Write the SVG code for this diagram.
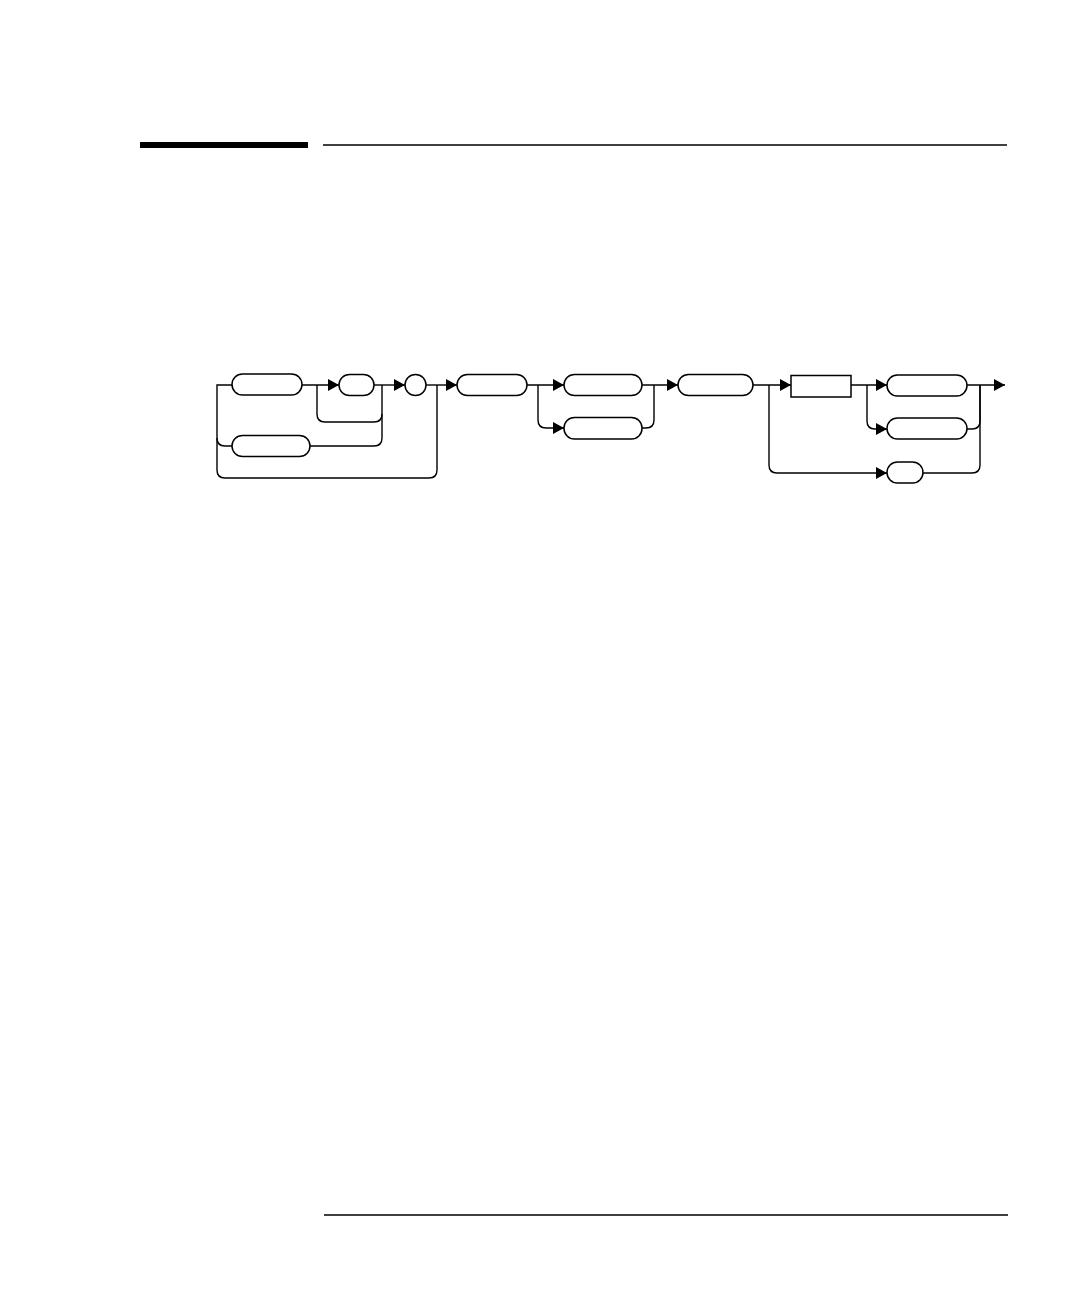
<svg xmlns="http://www.w3.org/2000/svg" width="1080" height="1296" viewBox="0 0 1080 1296">
<style>
.node{fill:#fff;stroke:#000;stroke-width:1.5}
.c{fill:none;stroke:#000;stroke-width:1.4}
.rule{stroke:#000;stroke-width:1.6}
</style>
<defs>
<marker id="ah" markerUnits="userSpaceOnUse" markerWidth="11" markerHeight="12" refX="11" refY="6" orient="auto">
<path d="M0,0 L11,6 L0,12 z" fill="#000"/>
</marker>
</defs>
<rect width="1080" height="1296" fill="#fff"/>
<g id="header">
<rect x="140" y="142" width="168" height="6" fill="#000"/>
<line class="rule" x1="323" y1="145" x2="1007" y2="145"/>
</g>
<g id="footer">
<line class="rule" x1="324" y1="1215" x2="1008" y2="1215"/>
</g>
<g id="connectors">
<path class="c" d="M232,385 H217 V470 Q217,478 225,478 H429 Q437,478 437,470 V385"/>
<path class="c" d="M217,438 Q217,446 225,446 H232"/>
<path class="c" d="M302,385 H339" marker-end="url(#ah)"/>
<path class="c" d="M317,385 V414 Q317,422 325,422 H374 Q382,422 382,414 V385"/>
<path class="c" d="M374,385 H405" marker-end="url(#ah)"/>
<path class="c" d="M310,446 H374 Q382,446 382,438 V414"/>
<path class="c" d="M426,385 H457" marker-end="url(#ah)"/>
<path class="c" d="M527,385 H564" marker-end="url(#ah)"/>
<path class="c" d="M538,385 V420 Q538,428 546,428 H564" marker-end="url(#ah)"/>
<path class="c" d="M642,385 H678" marker-end="url(#ah)"/>
<path class="c" d="M642,428 H646 Q654,428 654,420 V385"/>
<path class="c" d="M753,385 H791" marker-end="url(#ah)"/>
<path class="c" d="M769,385 V465 Q769,473 777,473 H887" stroke-width="2" marker-end="url(#ah)"/>
<path class="c" d="M851,385 H887" marker-end="url(#ah)"/>
<path class="c" d="M867,385 V421 Q867,429 875,429 H887" marker-end="url(#ah)"/>
<path class="c" d="M967,385 H1005" marker-end="url(#ah)"/>
<path class="c" d="M967,429 H972 Q980,429 980,421 V385"/>
<path class="c" d="M923,473 H972 Q980,473 980,465 V385"/>
</g>
<g id="nodeA"><rect class="node" x="232" y="374" width="70" height="21" rx="10.5"/></g>
<g id="nodeB"><rect class="node" x="339" y="374.5" width="35" height="21" rx="10.5"/></g>
<g id="nodeC"><rect class="node" x="232" y="435.5" width="78" height="21" rx="10.5"/></g>
<g id="nodeCircle"><circle class="node" cx="415.5" cy="385" r="10.5"/></g>
<g id="nodeD"><rect class="node" x="457" y="374.5" width="70" height="21" rx="10.5"/></g>
<g id="nodeE"><rect class="node" x="564" y="374.5" width="78" height="21" rx="10.5"/></g>
<g id="nodeF"><rect class="node" x="564" y="417.5" width="78" height="21.5" rx="10.5"/></g>
<g id="nodeG"><rect class="node" x="678" y="374.5" width="75" height="21" rx="10.5"/></g>
<g id="nodeH"><rect class="node" x="791" y="375.5" width="60" height="21.5"/></g>
<g id="nodeI1"><rect class="node" x="887" y="375" width="80" height="21" rx="10.5"/></g>
<g id="nodeI2"><rect class="node" x="887" y="418" width="80" height="21" rx="10.5"/></g>
<g id="nodeJ"><rect class="node" x="887" y="462" width="36" height="21" rx="10.5"/></g>
</svg>
